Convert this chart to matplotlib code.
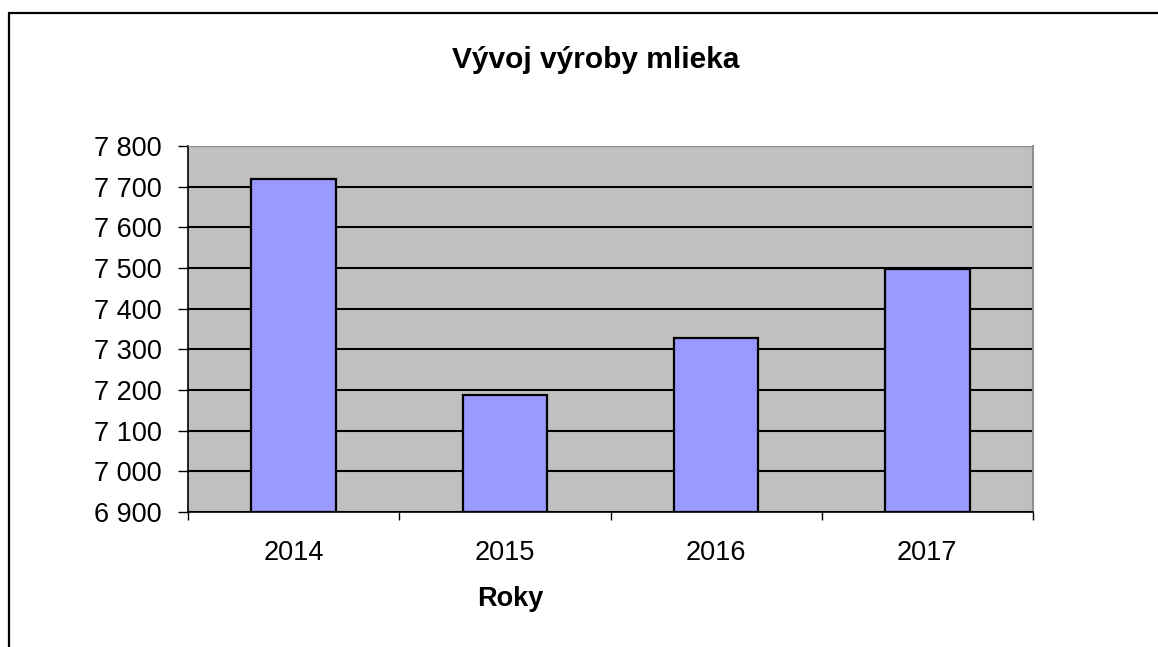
import matplotlib.pyplot as plt
from matplotlib.patches import Rectangle

plt.rcParams["font.family"] = ["Liberation Sans", "DejaVu Sans"]

years = ["2014", "2015", "2016", "2017"]
production = [7720, 7187, 7328, 7498]
y_ticks = [6900, 7000, 7100, 7200, 7300, 7400, 7500, 7600, 7700, 7800]
y_tick_labels = ["6 900", "7 000", "7 100", "7 200", "7 300", "7 400",
                 "7 500", "7 600", "7 700", "7 800"]

W, H = 1158, 647
fig = plt.figure(figsize=(W / 100, H / 100), dpi=100)
fig.patch.set_facecolor("white")

# outer frame (cut off on the right and bottom in the original)
fig.patches.append(Rectangle((9 / W, -0.2), 1.2, 1.2 - 13 / H,
                             transform=fig.transFigure, fill=False,
                             edgecolor="black", linewidth=1.6))

ax = fig.add_axes([188 / W, 1 - 512 / H, 845 / W, 366 / H])
ax.set_facecolor("#c0c0c0")

x = range(len(years))
ax.bar(x, [v - y_ticks[0] for v in production], bottom=y_ticks[0], width=0.4,
       color="#9999ff", edgecolor="black", linewidth=1.6, zorder=3)

ax.set_xlim(-0.5, len(years) - 0.5)
ax.set_ylim(y_ticks[0], y_ticks[-1])
ax.set_yticks(y_ticks)
ax.set_yticklabels(y_tick_labels, fontsize=19.5)
ax.set_xticks(list(x))
ax.set_xticklabels(years, fontsize=19.5)
ax.tick_params(axis="x", length=0, pad=20)
ax.set_xticks([i - 0.5 for i in range(len(years) + 1)], minor=True)
ax.tick_params(axis="x", which="minor", length=5.5, width=1, color="black")
ax.tick_params(axis="y", length=7, width=1, color="black", pad=12)

ax.grid(axis="y", color="black", linewidth=1.5, zorder=1)
ax.set_axisbelow(True)

ax.spines["left"].set_color("black")
ax.spines["bottom"].set_color("black")
ax.spines["left"].set_linewidth(1.2)
ax.spines["bottom"].set_linewidth(1.2)
ax.spines["top"].set_color("#909090")
ax.spines["right"].set_color("#909090")
ax.spines["right"].set_linewidth(1.5)

fig.text(596 / W, 1 - 68 / H, "Vývoj výroby mlieka", fontsize=21.5,
         fontweight="bold", ha="center", va="baseline")
fig.text(510 / W, 1 - 606 / H, "Roky", fontsize=19.5, fontweight="bold",
         ha="center", va="baseline")

fig.savefig("out.png", dpi=100)
